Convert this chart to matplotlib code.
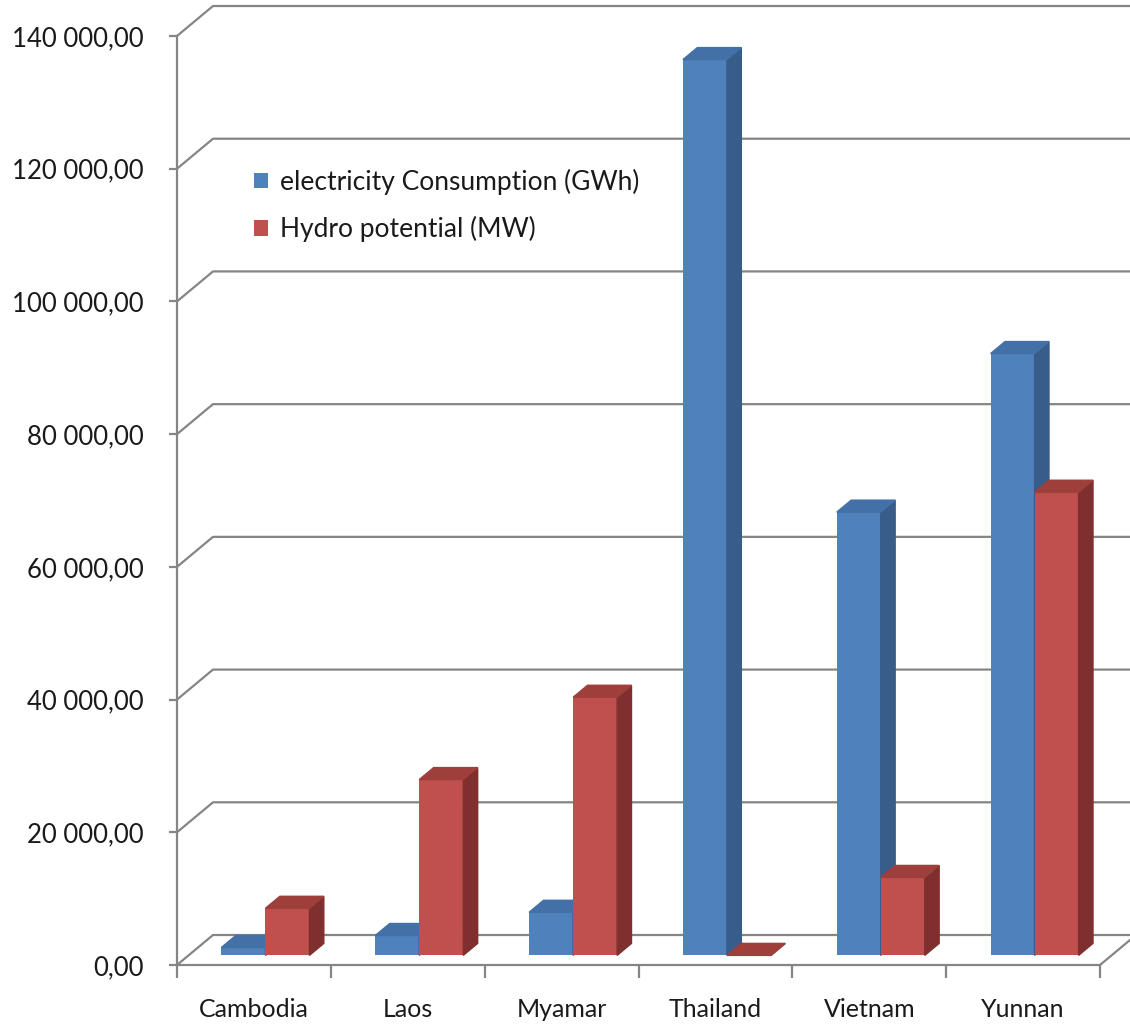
import matplotlib
matplotlib.use('Agg')
import matplotlib.pyplot as plt
from matplotlib.patches import Polygon
from matplotlib.ticker import FuncFormatter

countries = ['Cambodia', 'Laos', 'Myamar', 'Thailand', 'Vietnam', 'Yunnan']
consumption = [1200, 3000, 6500, 135000, 66800, 90700]
hydro = [7100, 26500, 38900, 0, 11750, 69800]
series_names = ['electricity Consumption (GWh)', 'Hydro potential (MW)']
yticks = list(range(0, 140001, 20000))

plt.rcParams['font.family'] = ['Lato', 'DejaVu Sans']

fig = plt.figure(figsize=(11.3, 10.26), dpi=100)
ax = fig.add_axes([177 / 1130, 61 / 1026, 923 / 1130, 929 / 1026])
ax.set_xlim(0, len(countries))
ax.set_ylim(0, 140000)

# oblique "3d" depth of the walls, in data units
dx, dy = 0.234, 4520
# bars sit a third of the way back and are ~0.4 of the depth thick
f, t = 0.32, 0.40
bw = 0.286
grid = '#858585'

# side wall diagonals + back wall gridlines
for v in yticks:
    ax.plot([0, dx, 6.5], [v, v + dy, v + dy], color=grid, lw=1.6,
            clip_on=False, zorder=1)
ax.plot([6, 6 + dx], [0, dy], color=grid, lw=1.6, clip_on=False, zorder=1)


def bar3d(xs, vals, front, side, top, label, z):
    x0 = [x + f * dx for x in xs]
    y0 = f * dy
    bars = ax.bar(x0, vals, bw, bottom=y0, align='edge', color=front,
                  zorder=z, label=label, clip_on=False)
    for xi, v in zip(x0, vals):
        xr = xi + bw
        ax.add_patch(Polygon([(xr, y0), (xr + t * dx, y0 + t * dy),
                              (xr + t * dx, y0 + v + t * dy), (xr, y0 + v)],
                             closed=True, color=side, zorder=z, clip_on=False))
        ax.add_patch(Polygon([(xi, y0 + v), (xi + t * dx, y0 + v + t * dy),
                              (xr + t * dx, y0 + v + t * dy), (xr, y0 + v)],
                             closed=True, color=top, zorder=z, clip_on=False))
    return bars


pos = [i + 0.5 - bw for i in range(len(countries))]
b1 = bar3d(pos, consumption, '#4f81bd', '#385d8a', '#4370a6', series_names[0], 3)
b2 = bar3d([p + bw for p in pos], hydro, '#c0504d', '#7f302e', '#9e3f3c', series_names[1], 4)

for s in ['top', 'right']:
    ax.spines[s].set_visible(False)
for s in ['left', 'bottom']:
    ax.spines[s].set_color(grid)
    ax.spines[s].set_linewidth(1.6)
ax.set_facecolor('none')

ax.set_yticks(yticks)
ax.yaxis.set_major_formatter(FuncFormatter(
    lambda v, p: f"{v:,.2f}".replace(',', ' ').replace('.', ',')))
ax.tick_params(axis='y', direction='out', length=6, width=1.6, color=grid,
               labelsize=18.5, pad=18, labelcolor='#1a1a1a')

ax.set_xticks(range(len(countries) + 1))
ax.set_xticklabels([])
ax.set_xticks([i + 0.5 for i in range(len(countries))], minor=True)
ax.set_xticklabels(countries, minor=True)
ax.tick_params(axis='x', which='major', direction='out', length=9, width=1.6, color=grid)
ax.tick_params(axis='x', which='minor', length=0, pad=24, labelsize=18,
               labelcolor='#1a1a1a')

ax.legend(handles=[b1, b2], frameon=False, loc='upper left',
          bbox_to_anchor=(230 / 1130, 1 - 145 / 1026), bbox_transform=fig.transFigure,
          fontsize=19, handlelength=0.55, handleheight=0.55, handletextpad=0.45,
          labelspacing=0.8, labelcolor='#1a1a1a')

fig.savefig('out.png', dpi=100, facecolor='white')
